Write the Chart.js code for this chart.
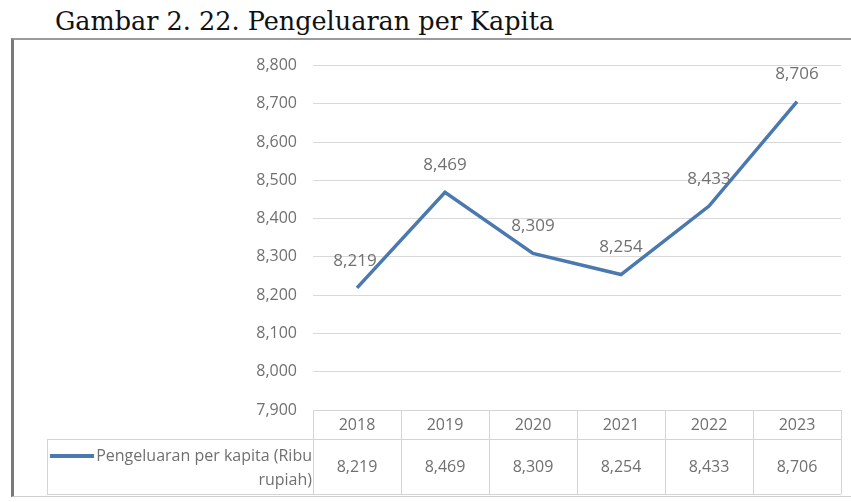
<!DOCTYPE html>
<html>
<head>
<meta charset="utf-8">
<script src="https://cdn.jsdelivr.net/npm/chart.js@4"></script>
<style>
  html, body { margin: 0; padding: 0; background: #fff; width: 851px; height: 502px; overflow: hidden; }
  #title { position: absolute; left: 55px; top: 9px; font-family: "DejaVu Serif", serif; font-size: 25.5px; line-height: 1; color: #111; white-space: nowrap; }
  #frame { position: absolute; left: 11px; top: 38px; width: 840px; height: 459px;
           border-top: 2px solid #9a9a9a; border-left: 3px solid #7a7a7a; border-bottom: 1px solid #cfcfcf; box-sizing: border-box; }
  #wrap { position: absolute; left: 0; top: 0; width: 837px; height: 456px; }
</style>
</head>
<body>
<div id="title">Gambar 2. 22. Pengeluaran per Kapita</div>
<div id="frame"><div id="wrap"><canvas id="c"></canvas></div></div>
<script>
const categories = ["2018", "2019", "2020", "2021", "2022", "2023"];
const seriesName = ["Pengeluaran per kapita (Ribu", "rupiah)"];
const values = [8219, 8469, 8309, 8254, 8433, 8706];
const yTicks = [7900, 8000, 8100, 8200, 8300, 8400, 8500, 8600, 8700, 8800];

const FONT = '"Open Sans", "Liberation Sans", sans-serif';
const TXT = '#707070';
const LINE = '#4a79b0';
const fmt = v => v.toLocaleString('en-US');

const tablePlugin = {
  id: 'tablePlugin',
  afterDraw(chart) {
    const ctx = chart.ctx;
    const xs = chart.scales.x;
    const area = chart.chartArea;
    const n = categories.length;
    const step = (area.right - area.left) / n;
    const top = area.bottom;
    const mid = top + 29;
    const bot = top + 84;
    const tLeft = 33;
    ctx.save();
    ctx.strokeStyle = '#d4d4d4';
    ctx.lineWidth = 1;
    ctx.beginPath();
    ctx.moveTo(area.left, top + 0.5); ctx.lineTo(area.right, top + 0.5);
    ctx.moveTo(tLeft, mid + 0.5); ctx.lineTo(area.right, mid + 0.5);
    ctx.moveTo(tLeft, bot + 0.5); ctx.lineTo(area.right, bot + 0.5);
    ctx.moveTo(tLeft + 0.5, mid); ctx.lineTo(tLeft + 0.5, bot);
    for (let i = 0; i <= n; i++) {
      const x = Math.round(area.left + i * step) + 0.5;
      ctx.moveTo(x, top); ctx.lineTo(x, bot);
    }
    ctx.stroke();
    ctx.fillStyle = TXT;
    ctx.font = '16px ' + FONT;
    ctx.textAlign = 'center';
    ctx.textBaseline = 'middle';
    categories.forEach((c, i) => {
      const x = xs.getPixelForValue(i);
      ctx.fillText(c, x, top + 15);
      ctx.fillText(fmt(values[i]), x, mid + 28);
    });
    // legend key
    ctx.strokeStyle = LINE;
    ctx.lineWidth = 4;
    ctx.beginPath();
    ctx.moveTo(36, mid + 17); ctx.lineTo(80, mid + 17);
    ctx.stroke();
    ctx.textAlign = 'right';
    ctx.fillText(seriesName[0], area.left - 1, mid + 17);
    ctx.fillText(seriesName[1], area.left - 1, mid + 41);
    ctx.restore();
  }
};

const labelPlugin = {
  id: 'labelPlugin',
  afterDatasetsDraw(chart) {
    const ctx = chart.ctx;
    const meta = chart.getDatasetMeta(0);
    ctx.save();
    ctx.fillStyle = TXT;
    ctx.font = '17px ' + FONT;
    ctx.textAlign = 'center';
    ctx.textBaseline = 'middle';
    meta.data.forEach((pt, i) => {
      ctx.fillText(fmt(values[i]), pt.x - (i === 0 ? 2 : 0), pt.y - 27);
    });
    ctx.restore();
  }
};

new Chart(document.getElementById('c'), {
  type: 'line',
  data: {
    labels: categories,
    datasets: [{
      label: seriesName.join(' '),
      data: values,
      borderColor: LINE,
      borderWidth: 3.5,
      pointRadius: 0,
      tension: 0,
      fill: false
    }]
  },
  options: {
    responsive: true,
    maintainAspectRatio: false,
    animation: false,
    layout: { padding: { left: 0, right: 10, top: 22, bottom: 86 } },
    plugins: { legend: { display: false }, tooltip: { enabled: false }, title: { display: false } },
    scales: {
      x: { type: 'category', offset: true, display: false, grid: { display: false } },
      y: {
        min: 7900, max: 8800,
        afterBuildTicks(scale) { scale.ticks = yTicks.map(v => ({ value: v })); },
        afterFit(scale) { scale.width = 299; },
        border: { display: false },
        grid: { color: ctx => ctx.tick.value === 7900 ? 'rgba(0,0,0,0)' : '#d9d9d9', lineWidth: 1, drawTicks: false },
        ticks: {
          color: TXT,
          font: { family: FONT, size: 16 },
          padding: 16,
          callback: v => fmt(v)
        }
      }
    }
  },
  plugins: [labelPlugin, tablePlugin]
});
</script>
</body>
</html>
